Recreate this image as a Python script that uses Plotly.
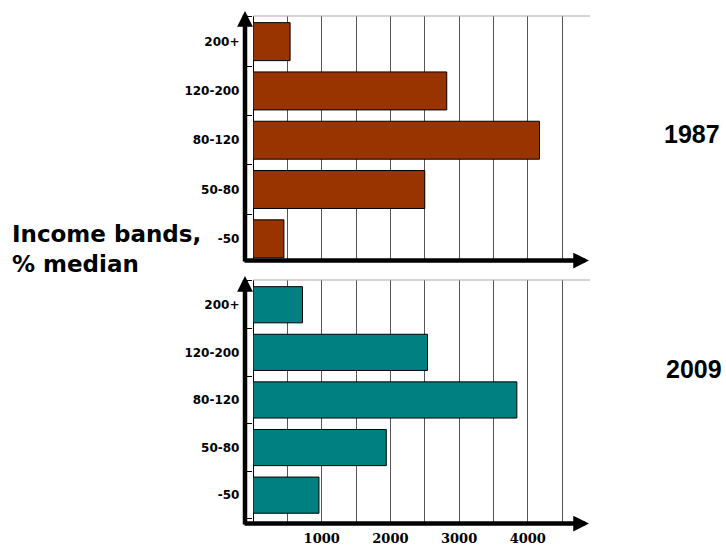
import plotly.graph_objects as go

# ---- data ----
categories = ["-50", "50-80", "80-120", "120-200", "200+"]
values_1987 = [450, 2500, 4170, 2820, 540]
values_2009 = [960, 1940, 3840, 2540, 720]
x_tick_vals = [0, 500, 1000, 1500, 2000, 2500, 3000, 3500, 4000, 4500]
x_tick_text = ["", "", "1000", "", "2000", "", "3000", "", "4000", ""]
panel_labels = ["1987", "2009"]
y_title = "Income bands,<br>% median"

# ---- geometry ----
W, H = 726, 547
ML, MR, MT, MB = 253, 136, 16, 24
PW, PH = W - ML - MR, H - MT - MB


def px_x(px):
    return (px - ML) / PW


def px_y(py):
    return (H - MB - py) / PH


fig = go.Figure()
fig.add_trace(go.Bar(
    y=categories, x=values_1987, orientation="h", xaxis="x", yaxis="y",
    marker=dict(color="#993300", line=dict(color="black", width=1)),
    width=0.77, showlegend=False, hoverinfo="x+y"))
fig.add_trace(go.Bar(
    y=categories, x=values_2009, orientation="h", xaxis="x2", yaxis="y2",
    marker=dict(color="#008080", line=dict(color="black", width=1)),
    width=0.76, showlegend=False, hoverinfo="x+y"))

xcommon = dict(range=[0, 4905], tickmode="array", tickvals=x_tick_vals,
               ticktext=x_tick_text, showgrid=True, gridcolor="#555555",
               gridwidth=1, zeroline=True, zerolinecolor="black",
               zerolinewidth=1, showline=False, fixedrange=True,
               automargin=False)
ycommon = dict(type="category", categoryorder="array", categoryarray=categories,
               showgrid=False, zeroline=False, showline=False,
               ticks="outside", tickson="boundaries", ticklen=5,
               tickcolor="black", tickwidth=1, ticksuffix="   ",
               automargin=False,
               tickfont=dict(family="DejaVu Sans", size=12, color="black",
                             weight="bold"))

top_bottom_px = 260.5
bot_top_px = 280
bot_bottom_px = 523

fig.update_layout(
    width=W, height=H,
    margin=dict(l=ML, r=MR, t=MT, b=MB, pad=0, autoexpand=False),
    paper_bgcolor="white", plot_bgcolor="white",
    bargap=0.23,
    xaxis=dict(**xcommon, anchor="y", showticklabels=False, ticks=""),
    yaxis=dict(**ycommon, domain=[px_y(top_bottom_px), 1], anchor="x",
               range=[-0.44, 4.52]),
    xaxis2=dict(**xcommon, anchor="y2", showticklabels=True,
                ticks="outside", ticklen=3, tickcolor="rgba(0,0,0,0)",
                tickfont=dict(family="DejaVu Serif", size=13, color="black",
                              weight="bold")),
    yaxis2=dict(**ycommon, domain=[0, px_y(bot_top_px)], anchor="x2",
                range=[-0.585, 4.52]),
)

# top gray border lines of each panel
for xr, yr in [("x domain", "y domain"), ("x2 domain", "y2 domain")]:
    fig.add_shape(type="line", xref=xr, yref=yr, x0=0, x1=1, y0=1, y1=1,
                  line=dict(color="#aaaaaa", width=1))

annotations = []
arrow_style = dict(text="", showarrow=True, arrowhead=2, arrowsize=0.7,
                   arrowwidth=4.5, arrowcolor="black", standoff=0,
                   startstandoff=0, xref="paper", yref="paper",
                   axref="pixel", ayref="pixel")
axis_x_px = 245
# top panel arrows
annotations.append(dict(x=px_x(axis_x_px), y=px_y(11), ax=0, ay=252, **arrow_style))
annotations.append(dict(x=px_x(589), y=px_y(top_bottom_px), ax=-346, ay=0, **arrow_style))
# bottom panel arrows
annotations.append(dict(x=px_x(axis_x_px), y=px_y(276), ax=0, ay=250, **arrow_style))
annotations.append(dict(x=px_x(589), y=px_y(bot_bottom_px + 0.5), ax=-346, ay=0, **arrow_style))

# panel labels
annotations.append(dict(text=panel_labels[0], x=px_x(692), y=px_y(134),
                        xref="paper", yref="paper", showarrow=False,
                        xanchor="center", yanchor="middle",
                        font=dict(family="Liberation Sans", size=25,
                                  color="black", weight="bold")))
annotations.append(dict(text=panel_labels[1], x=px_x(694), y=px_y(369),
                        xref="paper", yref="paper", showarrow=False,
                        xanchor="center", yanchor="middle",
                        font=dict(family="Liberation Sans", size=25,
                                  color="black", weight="bold")))
annotations.append(dict(text=y_title, x=px_x(10), y=px_y(249),
                        xref="paper", yref="paper", showarrow=False,
                        xanchor="left", yanchor="middle", align="left",
                        font=dict(family="DejaVu Sans", size=23,
                                  color="black", weight="bold")))
fig.update_layout(annotations=annotations)

fig.write_html("out.html")
